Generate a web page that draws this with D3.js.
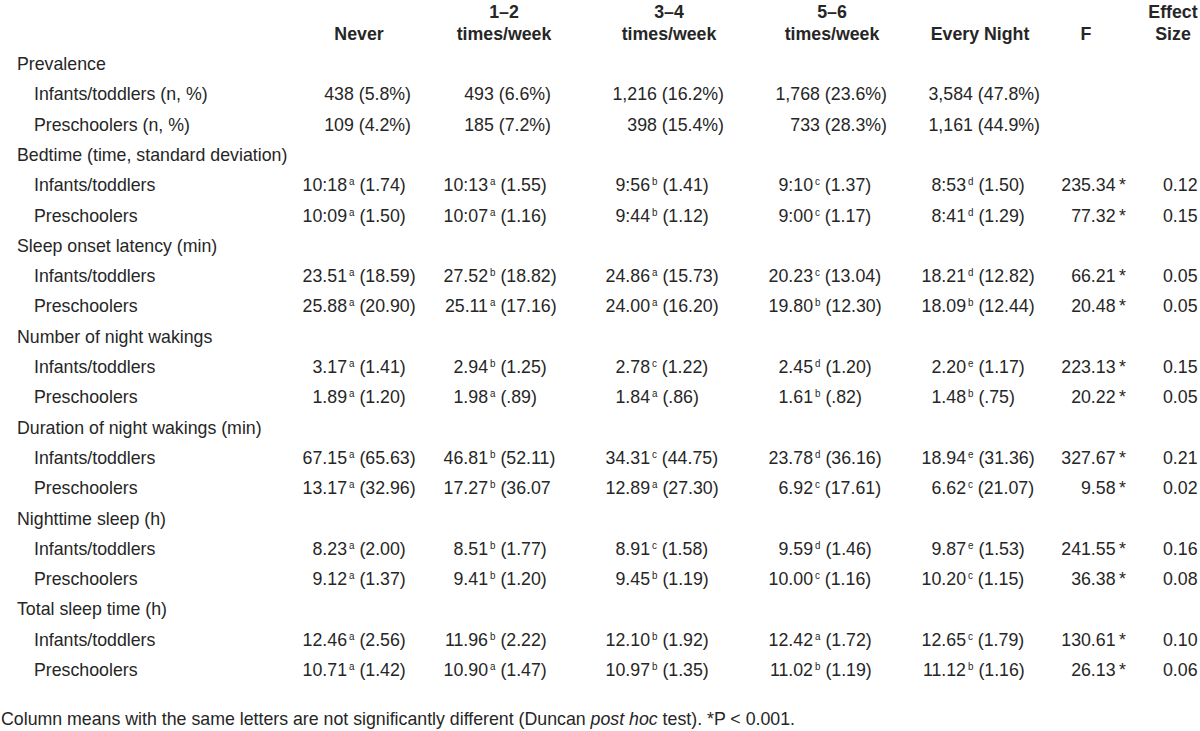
<!DOCTYPE html>
<html><head><meta charset="utf-8">
<script src="https://cdn.jsdelivr.net/npm/d3@7"></script>
<style>
html,body{margin:0;padding:0;background:#fff;}
svg text{font-family:"Liberation Sans Narrow","Arial Narrow","Liberation Sans",Arial,sans-serif;fill:#262626;}
</style></head>
<body><svg id="c" width="1200" height="731"></svg>
<script>
// ---------- data ----------
const columns = ["Never", "1–2|times/week", "3–4|times/week", "5–6|times/week", "Every Night"];
const extraHeaders = ["F", "Effect|Size"];
const groupNames = ["Infants/toddlers", "Preschoolers"];

const prevalenceN_inf = ["438", "493", "1,216", "1,768", "3,584"];
const prevalencePct_inf = ["5.8%", "6.6%", "16.2%", "23.6%", "47.8%"];
const prevalenceN_pre = ["109", "185", "398", "733", "1,161"];
const prevalencePct_pre = ["4.2%", "7.2%", "15.4%", "28.3%", "44.9%"];

const measures = [
  "Bedtime (time, standard deviation)",
  "Sleep onset latency (min)",
  "Number of night wakings",
  "Duration of night wakings (min)",
  "Nighttime sleep (h)",
  "Total sleep time (h)"
];

const infMean = [
  ["10:18", "10:13", "9:56", "9:10", "8:53"],
  ["23.51", "27.52", "24.86", "20.23", "18.21"],
  ["3.17", "2.94", "2.78", "2.45", "2.20"],
  ["67.15", "46.81", "34.31", "23.78", "18.94"],
  ["8.23", "8.51", "8.91", "9.59", "9.87"],
  ["12.46", "11.96", "12.10", "12.42", "12.65"]
];
const infLetter = [
  ["a", "a", "b", "c", "d"],
  ["a", "b", "a", "c", "d"],
  ["a", "b", "c", "d", "e"],
  ["a", "b", "c", "d", "e"],
  ["a", "b", "c", "d", "e"],
  ["a", "b", "b", "a", "c"]
];
const infSD = [
  ["(1.74)", "(1.55)", "(1.41)", "(1.37)", "(1.50)"],
  ["(18.59)", "(18.82)", "(15.73)", "(13.04)", "(12.82)"],
  ["(1.41)", "(1.25)", "(1.22)", "(1.20)", "(1.17)"],
  ["(65.63)", "(52.11)", "(44.75)", "(36.16)", "(31.36)"],
  ["(2.00)", "(1.77)", "(1.58)", "(1.46)", "(1.53)"],
  ["(2.56)", "(2.22)", "(1.92)", "(1.72)", "(1.79)"]
];
const preMean = [
  ["10:09", "10:07", "9:44", "9:00", "8:41"],
  ["25.88", "25.11", "24.00", "19.80", "18.09"],
  ["1.89", "1.98", "1.84", "1.61", "1.48"],
  ["13.17", "17.27", "12.89", "6.92", "6.62"],
  ["9.12", "9.41", "9.45", "10.00", "10.20"],
  ["10.71", "10.90", "10.97", "11.02", "11.12"]
];
const preLetter = [
  ["a", "a", "b", "c", "d"],
  ["a", "a", "a", "b", "b"],
  ["a", "a", "a", "b", "b"],
  ["a", "b", "a", "c", "c"],
  ["a", "b", "b", "c", "c"],
  ["a", "a", "b", "b", "b"]
];
const preSD = [
  ["(1.50)", "(1.16)", "(1.12)", "(1.17)", "(1.29)"],
  ["(20.90)", "(17.16)", "(16.20)", "(12.30)", "(12.44)"],
  ["(1.20)", "(.89)", "(.86)", "(.82)", "(.75)"],
  ["(32.96)", "(36.07", "(27.30)", "(17.61)", "(21.07)"],
  ["(1.37)", "(1.20)", "(1.19)", "(1.16)", "(1.15)"],
  ["(1.42)", "(1.47)", "(1.35)", "(1.19)", "(1.16)"]
];
const fInf = ["235.34", "66.21", "223.13", "327.67", "241.55", "130.61"];
const fPre = ["77.32", "20.48", "20.22", "9.58", "36.38", "26.13"];
const esInf = ["0.12", "0.05", "0.15", "0.21", "0.16", "0.10"];
const esPre = ["0.15", "0.05", "0.05", "0.02", "0.08", "0.06"];

// ---------- layout ----------
const svg = d3.select("#c");
const FS = 19, SX = 0.935;
const headX = d3.scaleOrdinal().domain(columns).range([359, 504, 669, 832, 980]);
const meanEnd = d3.scaleOrdinal().domain(columns).range([347, 488, 650, 813, 966]);
const prevRight = d3.scaleOrdinal().domain(columns).range([411, 551, 724, 887, 1040]);
const fRight = 1126, esLeft = 1163, fHeadX = 1086, esHeadX = 1173;
const rowY = d3.scaleLinear().domain([0, 20]).range([70, 676]);
const groupX = 17, subX = 34;

// condensed text helper (horizontal scaling emulates a narrow face)
function txt(parent, x, y, anchor) {
  const t = parent.append("text")
    .attr("transform", `translate(${x},${y}) scale(${SX},1)`);
  if (anchor) t.attr("text-anchor", anchor);
  return t;
}

// headers
const hdr = svg.append("g").attr("font-weight", "bold").attr("font-size", FS);
function header(label, x) {
  const parts = label.split("|");
  parts.forEach((p, i) => {
    txt(hdr, x, parts.length === 2 && i === 0 ? 18 : 40, "middle").text(p);
  });
}
columns.forEach(c => header(c, headX(c)));
header(extraHeaders[0], fHeadX);
header(extraHeaders[1], esHeadX);

const body = svg.append("g").attr("font-size", FS);

let r = 0;
txt(body, groupX, rowY(r)).text("Prevalence");
r++;
[[prevalenceN_inf, prevalencePct_inf, groupNames[0] + " (n, %)"],
 [prevalenceN_pre, prevalencePct_pre, groupNames[1] + " (n, %)"]].forEach(([ns, ps, lab]) => {
  txt(body, subX, rowY(r)).text(lab);
  columns.forEach((c, i) => {
    txt(body, prevRight(c), rowY(r), "end").text(ns[i] + " (" + ps[i] + ")");
  });
  r++;
});

function cell(x, y, mean, letter, sd) {
  txt(body, x, y, "end").text(mean);
  const t = txt(body, x + 2, y);
  t.append("tspan").attr("font-size", 10.5).attr("dy", -6).text(letter);
  t.append("tspan").attr("dy", 6).text(" " + sd);
}

measures.forEach((m, mi) => {
  txt(body, groupX, rowY(r)).text(m);
  r++;
  [[infMean, infLetter, infSD, fInf, esInf], [preMean, preLetter, preSD, fPre, esPre]].forEach(([M, L, S, F, E], gi) => {
    txt(body, subX, rowY(r)).text(groupNames[gi]);
    columns.forEach((c, ci) => cell(meanEnd(c), rowY(r), M[mi][ci], L[mi][ci], S[mi][ci]));
    txt(body, fRight, rowY(r), "end").text(F[mi] + "\u2009*");
    txt(body, esLeft, rowY(r)).text(E[mi]);
    r++;
  });
});

// footnote
const fn = txt(svg, 1, 725).attr("font-size", FS);
fn.append("tspan").text("Column means with the same letters are not significantly different (Duncan ");
fn.append("tspan").attr("font-style", "italic").text("post hoc");
fn.append("tspan").text(" test). *P < 0.001.");
</script></body></html>
